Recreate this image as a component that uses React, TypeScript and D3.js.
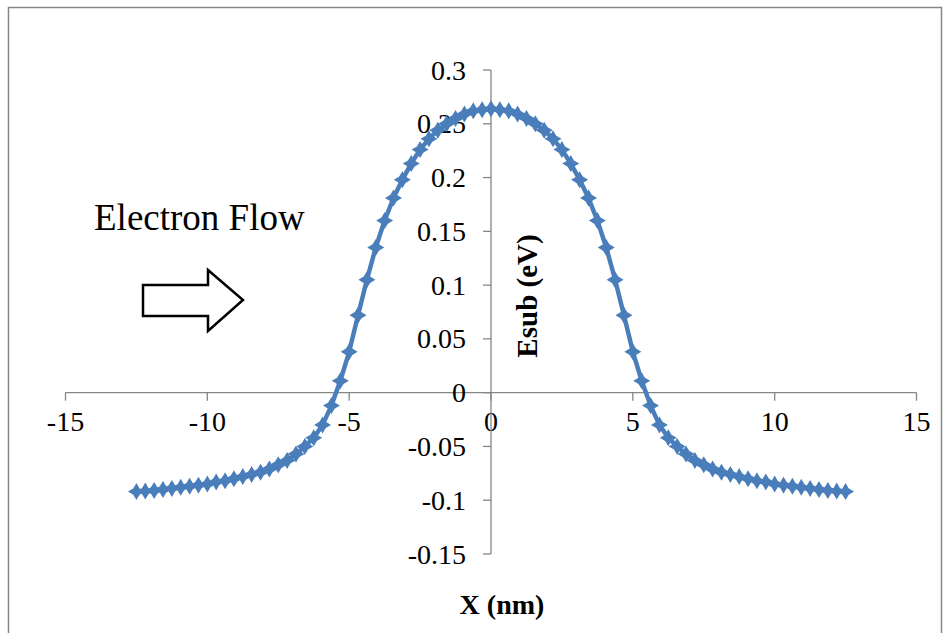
import React from "react";
import * as d3 from "d3";

const xTicks = [-15, -10, -5, 0, 5, 10, 15];
const yTicks = [-0.15, -0.1, -0.05, 0, 0.05, 0.1, 0.15, 0.2, 0.25, 0.3];
const yTickLabels = ["-0.15", "-0.1", "-0.05", "0", "0.05", "0.1", "0.15", "0.2", "0.25", "0.3"];

// position along channel (nm)
const xValues = [
  -12.5, -12.1875, -11.875, -11.5625, -11.25, -10.9375, -10.625, -10.3125, -10.0,
  -9.6875, -9.375, -9.0625, -8.75, -8.4375, -8.125, -7.8125, -7.5, -7.1875, -6.875,
  -6.5625, -6.25, -5.9375, -5.625, -5.3125, -5.0, -4.6875, -4.375, -4.0625, -3.75,
  -3.4375, -3.125, -2.8125, -2.5, -2.1875, -1.875, -1.5625, -1.25, -0.9375, -0.625,
  -0.3125, 0, 0.3125, 0.625, 0.9375, 1.25, 1.5625, 1.875, 2.1875, 2.5, 2.8125, 3.125,
  3.4375, 3.75, 4.0625, 4.375, 4.6875, 5.0, 5.3125, 5.625, 5.9375, 6.25, 6.5625, 6.875,
  7.1875, 7.5, 7.8125, 8.125, 8.4375, 8.75, 9.0625, 9.375, 9.6875, 10.0, 10.3125,
  10.625, 10.9375, 11.25, 11.5625, 11.875, 12.1875, 12.5,
];
// Esub (eV)
const esubValues = [
  -0.092, -0.0915, -0.091, -0.09, -0.089, -0.088, -0.087, -0.086, -0.085,
  -0.083, -0.082, -0.08, -0.078, -0.076, -0.074, -0.071, -0.067, -0.063, -0.057,
  -0.05, -0.042, -0.03, -0.012, 0.011, 0.038, 0.072, 0.105, 0.135, 0.16,
  0.181, 0.198, 0.213, 0.226, 0.236, 0.244, 0.25, 0.255, 0.259, 0.262,
  0.263, 0.264, 0.263, 0.262, 0.259, 0.255, 0.25, 0.244, 0.236, 0.226, 0.213, 0.198,
  0.181, 0.16, 0.135, 0.105, 0.072, 0.038, 0.011, -0.012, -0.03, -0.042, -0.05, -0.057,
  -0.063, -0.067, -0.071, -0.074, -0.076, -0.078, -0.08, -0.082, -0.083, -0.085, -0.086,
  -0.087, -0.088, -0.089, -0.09, -0.091, -0.0915, -0.092,
];

const W = 945;
const H = 633;
const BLUE = "#4A7EBB";
const AXIS = "#868686";
const FONT = "'Liberation Serif', 'Times New Roman', serif";

function starPath(r: number, ri: number) {
  const pts: [number, number][] = [];
  for (let i = 0; i < 8; i++) {
    const a = (i * Math.PI) / 4 - Math.PI / 2;
    const rr = i % 2 === 0 ? r : ri;
    pts.push([Math.cos(a) * rr, Math.sin(a) * rr]);
  }
  return "M" + pts.map((p) => p[0].toFixed(2) + "," + p[1].toFixed(2)).join("L") + "Z";
}

export default function App() {
  const x = d3.scaleLinear().domain([-15, 15]).range([65.5, 916.5]);
  const y = d3.scaleLinear().domain([-0.15, 0.3]).range([554, 70]);
  const x0 = x(0);
  const y0 = y(0);
  const data = xValues.map((v, i) => [v, esubValues[i]] as [number, number]);
  const line = d3.line<[number, number]>().x((d) => x(d[0])).y((d) => y(d[1]));
  const marker = starPath(8.5, 4.5);

  return (
    <svg
      width={W}
      height={H}
      style={{ position: "absolute", left: 0, top: 0, background: "#fff" }}
      fontFamily={FONT}
    >
      <rect x={8.5} y={7.5} width={933} height={640} fill="#fff" stroke={AXIS} strokeWidth={1.5} />
      {/* x axis */}
      <line x1={x(-15)} x2={x(15)} y1={y0} y2={y0} stroke={AXIS} strokeWidth={1.3} />
      {xTicks.map((t) => (
        <g key={"xt" + t}>
          <line x1={x(t)} x2={x(t)} y1={y0} y2={y0 + 8} stroke={AXIS} strokeWidth={1.3} />
          <text x={x(t)} y={y0 + 38} textAnchor="middle" fontSize={28} fill="#000">
            {t}
          </text>
        </g>
      ))}
      {/* y axis */}
      <line x1={x0} x2={x0} y1={y(0.3)} y2={y(-0.15)} stroke={AXIS} strokeWidth={1.3} />
      {yTicks.map((t, i) => (
        <g key={"yt" + i}>
          <line x1={x0 - 8} x2={x0} y1={y(t)} y2={y(t)} stroke={AXIS} strokeWidth={1.3} />
          <text x={x0 - 25} y={y(t) + 9.5} textAnchor="end" fontSize={28} fill="#000">
            {yTickLabels[i]}
          </text>
        </g>
      ))}
      {/* series */}
      <path d={line(data) || ""} fill="none" stroke={BLUE} strokeWidth={4.5} strokeLinejoin="round" />
      {data.map((d, i) => (
        <path key={"m" + i} d={marker} transform={`translate(${x(d[0])},${y(d[1])})`} fill={BLUE} />
      ))}
      {/* titles */}
      <text
        transform={`translate(${x0 + 46},${296}) rotate(-90)`}
        textAnchor="middle"
        fontSize={29}
        fontWeight="bold"
        fill="#000"
      >
        Esub (eV)
      </text>
      <text x={502} y={614} textAnchor="middle" fontSize={28} fontWeight="bold" fill="#000">
        X (nm)
      </text>
      <text x={94} y={230} fontSize={37} fill="#000">
        Electron Flow
      </text>
      {/* arrow */}
      <path
        d="M143,285 L208,285 L208,270 L243,300 L208,331 L208,316 L143,316 Z"
        fill="#fff"
        stroke="#000"
        strokeWidth={2.5}
        strokeLinejoin="miter"
      />
    </svg>
  );
}
